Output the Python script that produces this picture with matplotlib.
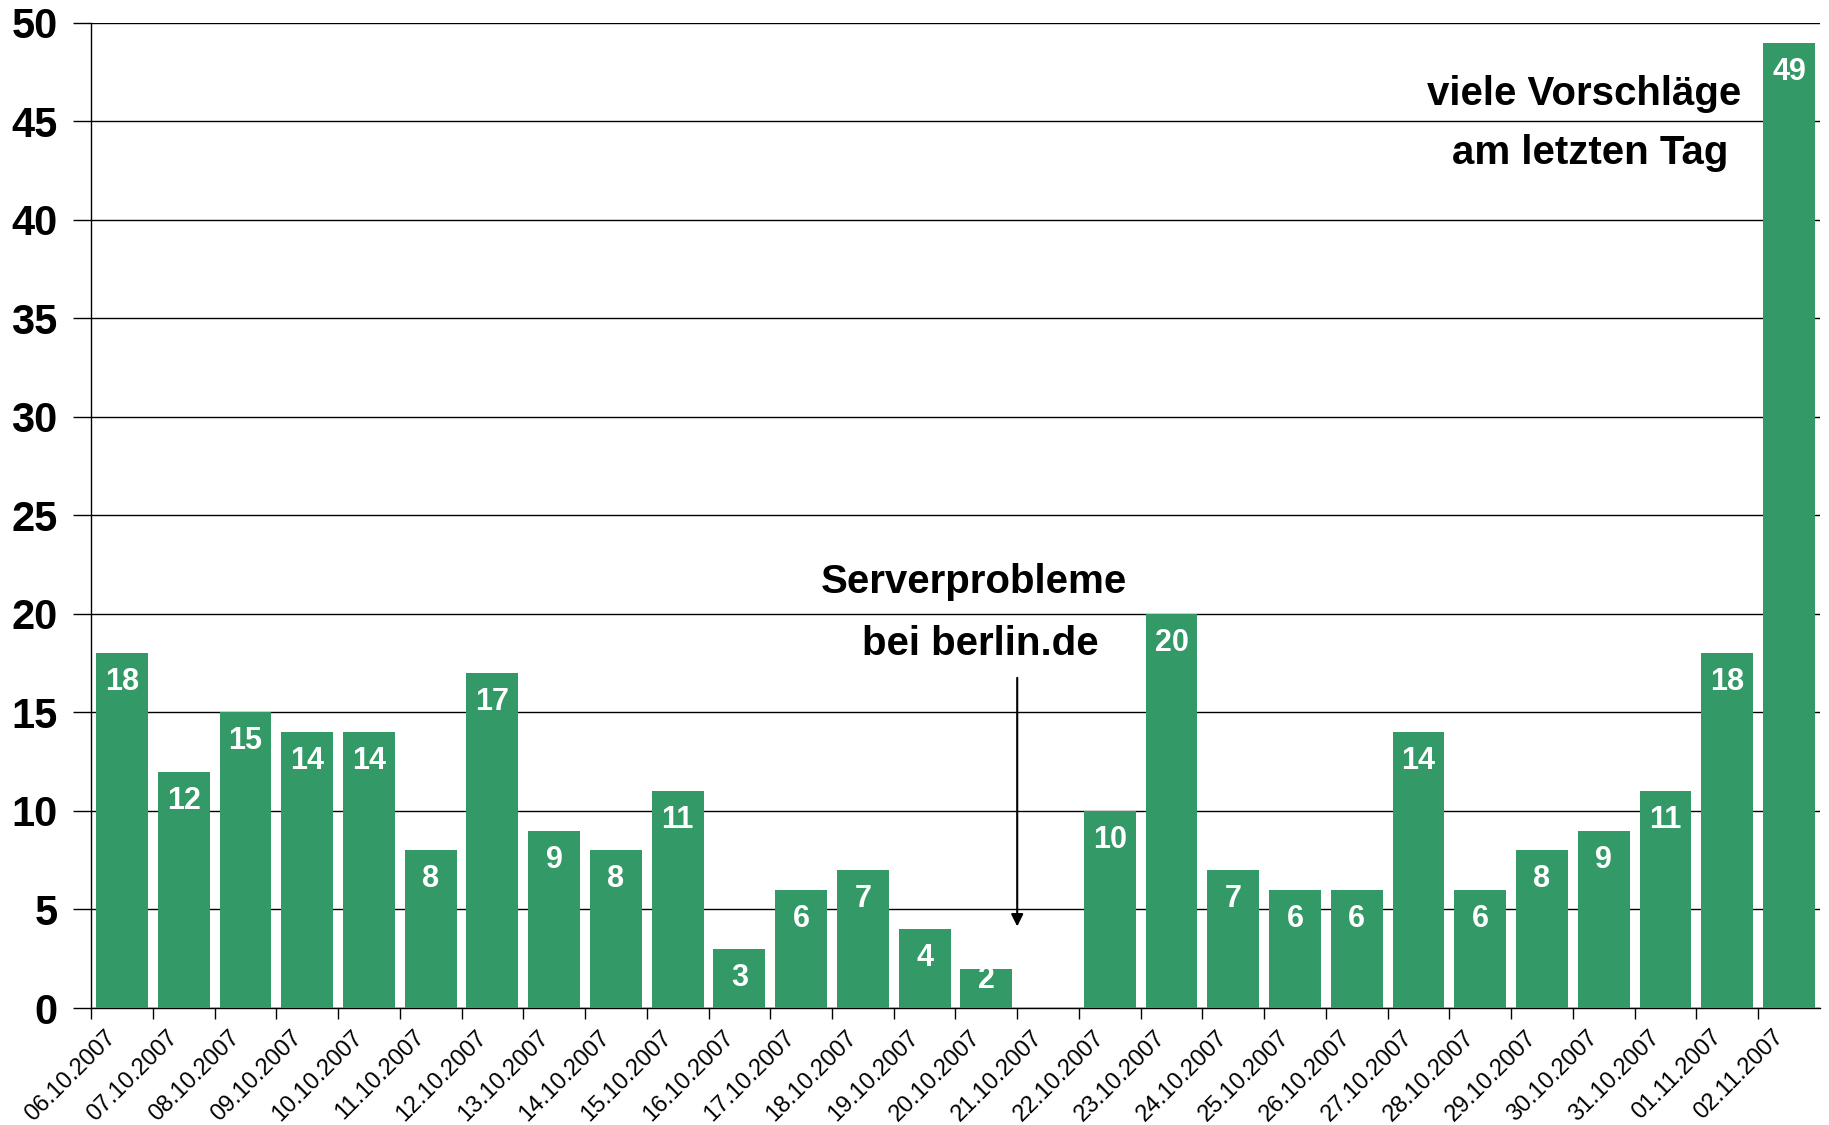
import numpy as np
import matplotlib
matplotlib.use("Agg")
import matplotlib.pyplot as plt
from matplotlib.transforms import ScaledTranslation

plt.rcParams['font.family'] = ['Liberation Sans', 'DejaVu Sans']

dates = ["06.10.2007", "07.10.2007", "08.10.2007", "09.10.2007", "10.10.2007",
         "11.10.2007", "12.10.2007", "13.10.2007", "14.10.2007", "15.10.2007",
         "16.10.2007", "17.10.2007", "18.10.2007", "19.10.2007", "20.10.2007",
         "21.10.2007", "22.10.2007", "23.10.2007", "24.10.2007", "25.10.2007",
         "26.10.2007", "27.10.2007", "28.10.2007", "29.10.2007", "30.10.2007",
         "31.10.2007", "01.11.2007", "02.11.2007"]
counts = [18, 12, 15, 14, 14, 8, 17, 9, 8, 11, 3, 6, 7, 4, 2,
          0, 10, 20, 7, 6, 6, 14, 6, 8, 9, 11, 18, 49]
yticks = [0, 5, 10, 15, 20, 25, 30, 35, 40, 45, 50]

green = "#339966"

fig = plt.figure(figsize=(18.29, 11.25), dpi=100)
ax = fig.add_axes([0.0498, 0.104, 0.9452, 0.8756])

x = np.arange(len(dates))
vals = np.array(counts)
ax.bar(x, vals, width=0.84, color=green, zorder=3)

# value labels inside the top of each bar
for xi, v in zip(x, vals):
    if v == 0:
        continue
    ylab = v - 1.47 if v > 2.5 else v - 0.6
    ax.text(xi, ylab, str(v), ha="center", va="center", color="white",
            fontsize=22, fontweight="bold", zorder=4)

ax.set_xlim(-0.5, len(dates) - 0.5)
ax.set_ylim(0, 50)
ax.set_yticks(yticks)
ax.set_yticklabels([str(t) for t in yticks], fontsize=30, fontweight="bold")
ax.tick_params(axis="y", length=13, width=1, pad=11, direction="out")

ax.set_xticks(x - 0.5)
ax.set_xticklabels(dates, rotation=45, ha="right", va="top",
                   rotation_mode="anchor", fontsize=17)
ax.tick_params(axis="x", length=8, width=1, pad=5, direction="out")
offset = ScaledTranslation(0.14, 0, fig.dpi_scale_trans)
for lab in ax.get_xticklabels():
    lab.set_transform(lab.get_transform() + offset)

ax.yaxis.grid(True, color="black", linewidth=1.0, zorder=0)
ax.set_axisbelow(True)
for s in ["top", "right"]:
    ax.spines[s].set_visible(False)
ax.spines["left"].set_linewidth(1.0)
ax.spines["bottom"].set_linewidth(1.0)

# annotations
ax.text(23.68, 46.4, "viele Vorschläge", ha="center", va="center",
        fontsize=29, fontweight="bold")
ax.text(23.78, 43.4, "am letzten Tag", ha="center", va="center",
        fontsize=29, fontweight="bold")
ax.text(13.8, 21.6, "Serverprobleme", ha="center", va="center",
        fontsize=29, fontweight="bold")
ax.text(13.9, 18.5, "bei berlin.de", ha="center", va="center",
        fontsize=29, fontweight="bold")
ax.annotate("", xy=(14.5, 4.0), xytext=(14.5, 16.9),
            arrowprops=dict(arrowstyle="-|>", color="black", lw=1.5,
                            mutation_scale=18))

fig.savefig("out.png", dpi=100)
